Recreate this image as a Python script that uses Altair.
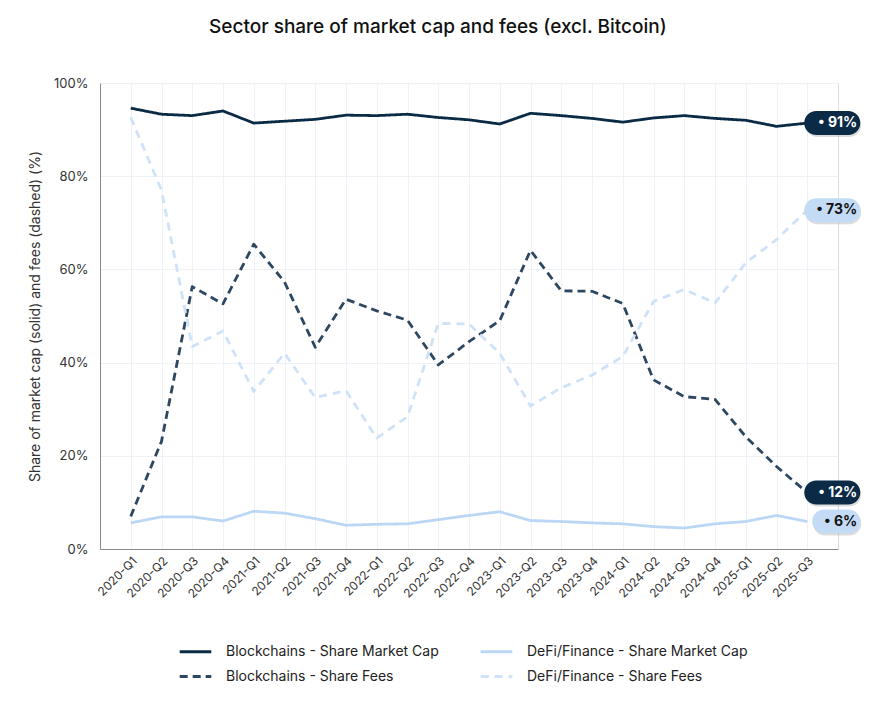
import altair as alt
import pandas as pd

quarters = [
    "2020-Q1", "2020-Q2", "2020-Q3", "2020-Q4",
    "2021-Q1", "2021-Q2", "2021-Q3", "2021-Q4",
    "2022-Q1", "2022-Q2", "2022-Q3", "2022-Q4",
    "2023-Q1", "2023-Q2", "2023-Q3", "2023-Q4",
    "2024-Q1", "2024-Q2", "2024-Q3", "2024-Q4",
    "2025-Q1", "2025-Q2", "2025-Q3",
]

blockchains_mcap = [94.6, 93.3, 93.0, 94.0, 91.4, 91.8, 92.2, 93.1, 93.0, 93.3, 92.6, 92.1,
                    91.2, 93.5, 93.0, 92.4, 91.6, 92.5, 93.0, 92.4, 92.0, 90.7, 91.4]
blockchains_fees = [7.0, 23.1, 56.3, 52.6, 65.4, 57.3, 43.3, 53.6, 51.1, 49.1, 39.5, 44.5,
                    49.0, 64.1, 55.4, 55.3, 52.7, 36.3, 32.7, 32.1, 24.1, 17.7, 12.1]
defi_mcap = [5.6, 6.9, 6.9, 6.0, 8.1, 7.7, 6.5, 5.1, 5.3, 5.4, 6.3, 7.2,
             8.0, 6.1, 5.9, 5.6, 5.4, 4.8, 4.5, 5.4, 5.9, 7.2, 5.9]
defi_fees = [92.6, 77.0, 43.4, 46.8, 33.8, 42.0, 32.5, 34.0, 23.8, 28.4, 48.4, 48.3,
             42.0, 30.7, 34.6, 37.3, 41.3, 53.1, 55.7, 52.8, 61.4, 66.4, 72.7]

series_names = [
    "Blockchains - Share Market Cap",
    "DeFi/Finance - Share Market Cap",
    "Blockchains - Share Fees",
    "DeFi/Finance - Share Fees",
]
series_values = [blockchains_mcap, defi_mcap, blockchains_fees, defi_fees]

rows = []
for name, vals in zip(series_names, series_values):
    for q, v in zip(quarters, vals):
        rows.append({"quarter": q, "value": v, "series": name})
df = pd.DataFrame(rows)

FONT = "Inter"
DARK = "#0b2a45"
PILL_LIGHT = "#c4dbf5"

color_scale = alt.Scale(domain=series_names,
                        range=["#0b2a45", "#bcd7f6", "#2e4760", "#cfe2f8"])
dash_scale = alt.Scale(domain=series_names,
                       range=[[1, 0], [1, 0], [8, 5], [8, 6]])

x_enc = alt.X("quarter:N", sort=quarters,
              scale=alt.Scale(type="point", padding=1.1),
              axis=alt.Axis(title=None, labelAngle=-45, ticks=False, grid=True,
                            gridColor="#eef1f5", domainColor="#8a8a8a",
                            labelColor="#333333", labelFontSize=12,
                            labelPadding=6, labelFont=FONT))
y_enc = alt.Y("value:Q", scale=alt.Scale(domain=[0, 100]),
              axis=alt.Axis(title="Share of market cap (solid) and fees (dashed) (%)",
                            values=[0, 20, 40, 60, 80, 100],
                            labelExpr="datum.value + '%'",
                            ticks=False, grid=True, gridColor="#eef1f5",
                            domainColor="#8a8a8a", labelColor="#333333",
                            labelFontSize=13, labelPadding=12, labelFont=FONT,
                            titleFont=FONT, titleFontSize=14, titleFontWeight="normal",
                            titleColor="#333333", titlePadding=11))

base = alt.Chart(df)

lines = base.mark_line(strokeWidth=2.8, strokeCap="butt", strokeJoin="round").encode(
    x=x_enc,
    y=y_enc,
    color=alt.Color("series:N", scale=color_scale, sort=series_names,
                    legend=alt.Legend(title=None, orient="none", legendX=78, legendY=551,
                                      columns=2, direction="horizontal",
                                      symbolType="stroke",
                                      symbolStrokeWidth=3, symbolSize=1000,
                                      labelFontSize=14, labelFont=FONT, labelLimit=0,
                                      labelColor="#222222", columnPadding=35,
                                      rowPadding=-11, labelOffset=13)),
    strokeDash=alt.StrokeDash("series:N", scale=dash_scale, sort=series_names, legend=None),
)

last = base.transform_filter(alt.datum.quarter == quarters[-1]).transform_calculate(
    label="'\u2022 ' + format(datum.value, '.0f') + '%'",
    is_dark="indexof(datum.series, 'Blockchains') >= 0",
)

pill_fill = alt.condition("datum.is_dark", alt.value(DARK), alt.value(PILL_LIGHT))
text_fill = alt.condition("datum.is_dark", alt.value("#ffffff"), alt.value("#111111"))

wide = last.transform_filter("datum.value >= 9.5")
narrow = last.transform_filter("datum.value < 9.5")

shadow_w = wide.mark_rect(width=56, height=24, cornerRadius=12, xOffset=26, yOffset=2,
                          color="#9a9a9a", opacity=0.35).encode(x=alt.X("quarter:N", sort=quarters), y="value:Q")
shadow_n = narrow.mark_rect(width=48, height=24, cornerRadius=12, xOffset=30, yOffset=2,
                            color="#9a9a9a", opacity=0.35).encode(x=alt.X("quarter:N", sort=quarters), y="value:Q")
pill_w = wide.mark_rect(width=56, height=24, cornerRadius=12, xOffset=25).encode(
    x=alt.X("quarter:N", sort=quarters), y="value:Q", fill=pill_fill)
pill_n = narrow.mark_rect(width=48, height=24, cornerRadius=12, xOffset=29).encode(
    x=alt.X("quarter:N", sort=quarters), y="value:Q", fill=pill_fill)

labels = last.mark_text(font=FONT, fontSize=14, fontWeight="bold", align="right",
                        baseline="middle", xOffset=50).encode(
    x=alt.X("quarter:N", sort=quarters), y="value:Q", text="label:N", fill=text_fill)

chart = alt.layer(lines, shadow_w, shadow_n, pill_w, pill_n, labels).properties(
    width=738, height=466,
    title=alt.TitleParams("Sector share of market cap and fees (excl. Bitcoin)",
                          font=FONT, fontSize=19, fontWeight=500, color="#111111",
                          anchor="middle", frame="bounds", offset=40, dx=-7),
    padding={"left": 20, "top": 10, "right": 5, "bottom": 5},
).configure_view(stroke=None).configure(background="white")

chart.save("out.html", embed_options={"renderer": "svg", "actions": False})
